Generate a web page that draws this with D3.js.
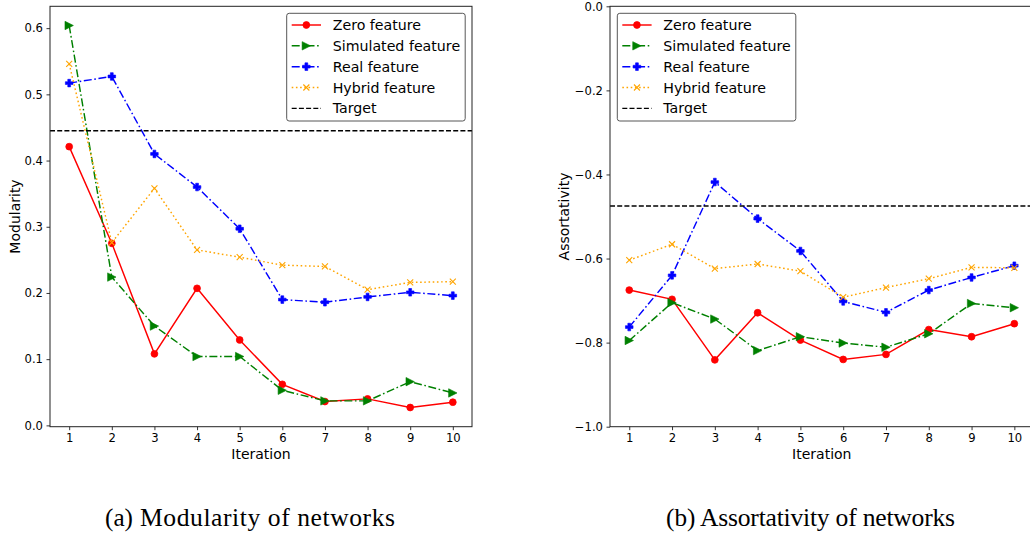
<!DOCTYPE html>
<html>
<head>
<meta charset="utf-8">
<script src="https://cdn.jsdelivr.net/npm/d3@7"></script>
<style>
  html, body { margin: 0; padding: 0; background: #fff; }
  svg { display: block; }
  text { font-family: "DejaVu Sans", sans-serif; fill: #000; }
  .caption { font-family: "Liberation Serif", "Times New Roman", serif; }
</style>
</head>
<body>
<svg id="fig" width="1030" height="533"></svg>
<script>
// Iterations on the x axis
const iterations = [1, 2, 3, 4, 5, 6, 7, 8, 9, 10];

// Modularity per iteration
const modZero      = [0.421, 0.275, 0.108, 0.207, 0.129, 0.062, 0.036, 0.040, 0.027, 0.035];
const modSimulated = [0.604, 0.224, 0.150, 0.104, 0.104, 0.053, 0.037, 0.037, 0.066, 0.049];
const modReal      = [0.517, 0.527, 0.410, 0.360, 0.297, 0.190, 0.186, 0.194, 0.201, 0.196];
const modHybrid    = [0.546, 0.276, 0.358, 0.265, 0.254, 0.242, 0.240, 0.205, 0.216, 0.217];
const modTarget = 0.445;

// Assortativity per iteration
const asZero      = [-0.675, -0.697, -0.841, -0.729, -0.794, -0.840, -0.828, -0.769, -0.786, -0.755];
const asSimulated = [-0.795, -0.705, -0.744, -0.819, -0.786, -0.801, -0.811, -0.779, -0.707, -0.717];
const asReal      = [-0.763, -0.640, -0.418, -0.505, -0.582, -0.702, -0.728, -0.675, -0.645, -0.617];
const asHybrid    = [-0.604, -0.566, -0.624, -0.613, -0.630, -0.692, -0.669, -0.648, -0.621, -0.622];
const asTarget = -0.475;

// Axis ticks
const modTicks = [0.0, 0.1, 0.2, 0.3, 0.4, 0.5, 0.6];
const asTicks = [-1.0, -0.8, -0.6, -0.4, -0.2, 0.0];

// Legend labels
const seriesNames = ["Zero feature", "Simulated feature", "Real feature", "Hybrid feature"];
const targetName = "Target";

// Caption texts: sub-figure tag and title
const captionTags = ["(a)", "(b)"];
const captionTitles = ["Modularity of networks", "Assortativity of networks"];

const styles = [
  { color: "#ff0000", dash: null,            marker: "circle" },
  { color: "#008000", dash: "8,2.6,1.6,2.6", marker: "triRight" },
  { color: "#0000ff", dash: "8,2.6,1.6,2.6", marker: "plus" },
  { color: "#ffa500", dash: "1.6,2.6",       marker: "x" }
];

const svg = d3.select("#fig");

function fmtTick(v) {
  const s = Math.abs(v).toFixed(1);
  return (v < -1e-9 ? "\u2212" : "") + s;
}

function drawMarker(g, type, x, y, color) {
  if (type === "circle") {
    g.append("circle").attr("cx", x).attr("cy", y).attr("r", 3.4)
      .attr("fill", color).attr("stroke", color).attr("stroke-width", 0.8);
  } else if (type === "triRight") {
    const s = 4.2;
    g.append("path")
      .attr("d", `M${x + s},${y} L${x - s},${y - s} L${x - s},${y + s} Z`)
      .attr("fill", color).attr("stroke", color).attr("stroke-width", 0.6);
  } else if (type === "plus") {
    const a = 3.8, b = 1.4;
    const d = `M${x - b},${y - a} H${x + b} V${y - b} H${x + a} V${y + b} H${x + b} V${y + a} H${x - b} V${y + b} H${x - a} V${y - b} H${x - b} Z`;
    g.append("path").attr("d", d).attr("fill", color).attr("stroke", color).attr("stroke-width", 0.6);
  } else if (type === "x") {
    const s = 3.0;
    g.append("path")
      .attr("d", `M${x - s},${y - s} L${x + s},${y + s} M${x - s},${y + s} L${x + s},${y - s}`)
      .attr("stroke", color).attr("stroke-width", 1.1).attr("fill", "none");
  }
}

function drawPanel(opt) {
  const { left, right, top, bottom, yDomain, yTicks, series, target, yLabel, legendX } = opt;
  const g = svg.append("g");

  const x = d3.scaleLinear().domain([0.55, 10.45]).range([left, right]);
  const y = d3.scaleLinear().domain(yDomain).range([bottom, top]);

  // clip for data lines
  const clipId = "clip" + Math.round(left);
  svg.append("clipPath").attr("id", clipId)
    .append("rect").attr("x", left).attr("y", top).attr("width", right - left).attr("height", bottom - top);

  // axes
  const xAxis = d3.axisBottom(x).tickValues(iterations).tickFormat(d3.format("d"))
    .tickSizeOuter(0).tickSizeInner(3.5).tickPadding(3.5);
  const yAxis = d3.axisLeft(y).tickValues(yTicks).tickFormat(fmtTick)
    .tickSizeOuter(0).tickSizeInner(3.5).tickPadding(3.5);

  const gx = g.append("g").attr("transform", `translate(0,${bottom})`).call(xAxis);
  const gy = g.append("g").attr("transform", `translate(${left},0)`).call(yAxis);
  [gx, gy].forEach(a => {
    a.select(".domain").remove();
    a.selectAll(".tick line").attr("stroke", "#000").attr("stroke-width", 0.8);
    a.selectAll(".tick text").attr("font-size", "11.6px").attr("font-family", "DejaVu Sans").attr("fill", "#000");
  });

  const plot = g.append("g").attr("clip-path", `url(#${clipId})`);

  const line = d3.line().x((d, i) => x(iterations[i])).y(d => y(d));

  series.forEach((vals, k) => {
    const st = styles[k];
    plot.append("path").datum(vals)
      .attr("d", line)
      .attr("fill", "none")
      .attr("stroke", st.color)
      .attr("stroke-width", 1.45)
      .attr("stroke-dasharray", st.dash);
    const mg = plot.append("g");
    vals.forEach((v, i) => drawMarker(mg, st.marker, x(iterations[i]), y(v), st.color));
  });

  // target line
  plot.append("line")
    .attr("x1", left).attr("x2", right)
    .attr("y1", y(target)).attr("y2", y(target))
    .attr("stroke", "#000").attr("stroke-width", 1.3).attr("stroke-dasharray", "5,2.2");

  // frame
  g.append("rect").attr("x", left).attr("y", top).attr("width", right - left).attr("height", bottom - top)
    .attr("fill", "none").attr("stroke", "#222").attr("stroke-width", 1);

  // axis labels
  g.append("text").attr("x", (left + right) / 2).attr("y", bottom + 32.5)
    .attr("text-anchor", "middle").attr("font-size", "14px").text("Iteration");
  g.append("text")
    .attr("transform", `translate(${opt.yLabelX},${(top + bottom) / 2}) rotate(-90)`)
    .attr("text-anchor", "middle").attr("font-size", "14px").text(yLabel);

  // legend
  const lx = legendX, ly = 13.3, lw = 178.5, lh = 107.7;
  const lg = g.append("g");
  lg.append("rect").attr("x", lx).attr("y", ly).attr("width", lw).attr("height", lh)
    .attr("rx", 2.5).attr("fill", "#fff").attr("fill-opacity", 0.85)
    .attr("stroke", "#444").attr("stroke-width", 0.9);
  const rowY = k => 25 + k * 20.83;
  const h0 = lx + 5, h1 = lx + 34.3, hm = (h0 + h1) / 2;
  seriesNames.forEach((name, k) => {
    const st = styles[k];
    lg.append("line").attr("x1", h0).attr("x2", h1).attr("y1", rowY(k)).attr("y2", rowY(k))
      .attr("stroke", st.color).attr("stroke-width", 1.45).attr("stroke-dasharray", st.dash);
    drawMarker(lg, st.marker, hm, rowY(k), st.color);
    lg.append("text").attr("x", lx + 46).attr("y", rowY(k)).attr("dy", "0.36em")
      .attr("font-size", "14.2px").text(name);
  });
  lg.append("line").attr("x1", h0).attr("x2", h1).attr("y1", rowY(4)).attr("y2", rowY(4))
    .attr("stroke", "#000").attr("stroke-width", 1.3).attr("stroke-dasharray", "5,2.2");
  lg.append("text").attr("x", lx + 46).attr("y", rowY(4)).attr("dy", "0.36em")
    .attr("font-size", "14.2px").text(targetName);
}

drawPanel({
  left: 50, right: 472, top: 6.3, bottom: 426.7,
  yDomain: [-0.002, 0.633], yTicks: modTicks,
  series: [modZero, modSimulated, modReal, modHybrid],
  target: modTarget, yLabel: "Modularity", yLabelX: 19.5, legendX: 286.7
});

drawPanel({
  left: 610, right: 1033.6, top: 6.3, bottom: 426.7,
  yDomain: [-1.0, 0.0], yTicks: asTicks,
  series: [asZero, asSimulated, asReal, asHybrid],
  target: asTarget, yLabel: "Assortativity", yLabelX: 568.5, legendX: 617.3
});

// captions
[[105, 140], [666, 700]].forEach(([tagX, titleX], i) => {
  svg.append("text").attr("class", "caption").attr("x", tagX).attr("y", 525.5)
    .attr("font-size", "25.2px").text(captionTags[i]);
  svg.append("text").attr("class", "caption").attr("x", titleX).attr("y", 525.5)
    .attr("font-size", "25.6px").attr("textLength", 255)
    .attr("lengthAdjust", "spacing").text(captionTitles[i]);
});
</script>
</body>
</html>
